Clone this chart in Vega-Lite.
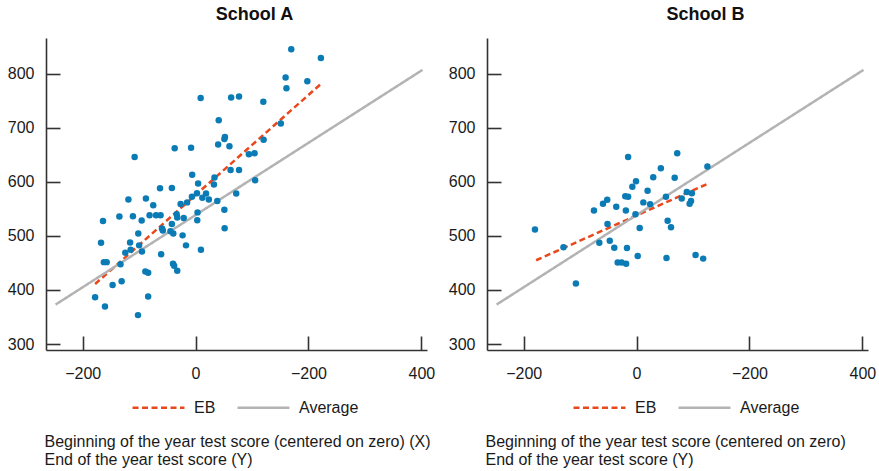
{
  "$schema": "https://vega.github.io/schema/vega-lite/v6.json",
  "padding": {"left": 7, "top": 6, "right": 5, "bottom": 5},
  "background": "white",
  "datasets": {
    "ptsA": [
      {"x": 169.5, "y": 845}, {"x": 222, "y": 829}, {"x": 159.5, "y": 793}, {"x": 161, "y": 773}, {"x": 198, "y": 786},
      {"x": 9, "y": 755}, {"x": 63, "y": 756}, {"x": 77, "y": 758}, {"x": 120, "y": 748}, {"x": 41, "y": 714},
      {"x": 151, "y": 708}, {"x": 52, "y": 683}, {"x": 51, "y": 679}, {"x": 40, "y": 669}, {"x": 60, "y": 666},
      {"x": 120.5, "y": 678}, {"x": -37, "y": 662}, {"x": -8, "y": 663}, {"x": -108, "y": 646}, {"x": 94.5, "y": 651},
      {"x": 104.5, "y": 653}, {"x": 62, "y": 622}, {"x": 77, "y": 622}, {"x": 105.5, "y": 603}, {"x": -6, "y": 613},
      {"x": 4.5, "y": 597}, {"x": 33.5, "y": 608}, {"x": 32.5, "y": 595}, {"x": -63, "y": 588}, {"x": -42, "y": 588.5},
      {"x": -119, "y": 567.5}, {"x": -88, "y": 569}, {"x": -75, "y": 556.5}, {"x": -6.5, "y": 572.5}, {"x": 2.5, "y": 579},
      {"x": 12, "y": 570.5}, {"x": 18.5, "y": 578.5}, {"x": 23.5, "y": 567.5}, {"x": 38.5, "y": 564.5}, {"x": 72, "y": 578.5},
      {"x": -26.5, "y": 559}, {"x": -15, "y": 562}, {"x": -135, "y": 536}, {"x": -111, "y": 536.5}, {"x": -81.5, "y": 538},
      {"x": -70, "y": 538}, {"x": -62, "y": 538}, {"x": -164, "y": 527.5}, {"x": -95.5, "y": 528.5}, {"x": -33.5, "y": 540},
      {"x": -32.5, "y": 534}, {"x": -21, "y": 533}, {"x": 3.5, "y": 543.5}, {"x": 3, "y": 529}, {"x": 51, "y": 548.5},
      {"x": -42, "y": 522}, {"x": -59.5, "y": 513.5}, {"x": -58, "y": 510}, {"x": -44.5, "y": 508.5}, {"x": -39.5, "y": 504.5},
      {"x": -23, "y": 501}, {"x": -101.5, "y": 504.5}, {"x": 51.5, "y": 514}, {"x": -167.5, "y": 487.5}, {"x": -116, "y": 488},
      {"x": -100, "y": 482.5}, {"x": -17, "y": 482.5}, {"x": -115, "y": 474.5}, {"x": -124.5, "y": 469}, {"x": -95, "y": 471},
      {"x": 9.5, "y": 474.5}, {"x": -61, "y": 466}, {"x": -162.5, "y": 451.5}, {"x": -157.5, "y": 451.5}, {"x": -133, "y": 447.5},
      {"x": -40, "y": 448.5}, {"x": -38, "y": 445}, {"x": -89, "y": 434}, {"x": -84, "y": 432}, {"x": -32.5, "y": 435.5},
      {"x": -147, "y": 409}, {"x": -131, "y": 416}, {"x": -178, "y": 386.5}, {"x": -84, "y": 388}, {"x": -160.5, "y": 369.5},
      {"x": -102, "y": 353.5}
    ],
    "ptsB": [
      {"x": -180, "y": 512}, {"x": -129.5, "y": 479}, {"x": -107.5, "y": 412}, {"x": -75.5, "y": 547}, {"x": -59.5, "y": 559.5},
      {"x": -52, "y": 567}, {"x": -51.5, "y": 522}, {"x": -66, "y": 487.5}, {"x": -47.5, "y": 491}, {"x": -39.5, "y": 478},
      {"x": -36, "y": 554}, {"x": -33.5, "y": 451}, {"x": -26.5, "y": 451}, {"x": -18.5, "y": 448.5}, {"x": -17, "y": 477.5},
      {"x": -19, "y": 547}, {"x": -20, "y": 573.5}, {"x": -15, "y": 572.5}, {"x": -15, "y": 646}, {"x": -7.5, "y": 591},
      {"x": -1, "y": 601}, {"x": -2, "y": 540}, {"x": 5.5, "y": 514.5}, {"x": 2, "y": 463}, {"x": 12, "y": 562},
      {"x": 19.5, "y": 583.5}, {"x": 24, "y": 558.5}, {"x": 29.5, "y": 608.5}, {"x": 43, "y": 625}, {"x": 52, "y": 572.5},
      {"x": 55, "y": 528}, {"x": 61, "y": 516}, {"x": 53, "y": 459}, {"x": 67.5, "y": 607.5}, {"x": 72, "y": 653},
      {"x": 80, "y": 569}, {"x": 89, "y": 581}, {"x": 98, "y": 579}, {"x": 96.5, "y": 564.5}, {"x": 94, "y": 559.5},
      {"x": 104.5, "y": 464.5}, {"x": 118, "y": 458}, {"x": 125.5, "y": 628.5}
    ],
    "linesA": [
      {"series": "EB", "x": -178, "y": 411}, {"series": "EB", "x": 222, "y": 781},
      {"series": "Average", "x": -248, "y": 373}, {"series": "Average", "x": 402, "y": 807}
    ],
    "linesB": [
      {"series": "EB", "x": -178, "y": 455}, {"series": "EB", "x": 125, "y": 596},
      {"series": "Average", "x": -248, "y": 373}, {"series": "Average", "x": 402, "y": 807}
    ]
  },
  "config": {
    "font": "Liberation Sans",
    "view": {"stroke": null},
    "axis": {
      "grid": false,
      "labelFont": "Liberation Sans", "labelFontSize": 16, "labelColor": "#1a1a1a",
      "domainColor": "#333333", "tickColor": "#333333", "domainWidth": 1.6, "tickWidth": 1.6, "tickSize": -14,
      "titleFont": "Liberation Sans", "titleFontSize": 16, "titleFontWeight": "normal", "titleColor": "#1a1a1a"
    },
    "legend": {
      "labelFont": "Liberation Sans", "labelFontSize": 16, "labelColor": "#1a1a1a"
    },
    "title": {"font": "Liberation Sans", "fontSize": 18, "fontWeight": "bold", "color": "#111111", "anchor": "middle", "offset": 14}
  },
  "bounds": "flush",
  "spacing": 60,
  "resolve": {"scale": {"color": "independent", "strokeDash": "independent"}, "legend": {"color": "independent", "strokeDash": "independent"}},
  "hconcat": [
    {
      "width": 381, "height": 312,
      "title": {"text": "School A", "dx": 18},
      "layer": [
        {
          "data": {"name": "linesA"},
          "mark": {"type": "line", "strokeWidth": 2.5},
          "encoding": {
            "x": {"field": "x", "type": "quantitative", "scale": {"domain": [-265, 410], "nice": false, "zero": false},
              "axis": {"values": [-200, 0, 200, 400], "labelExpr": "datum.value == 200 ? '−200' : datum.label", "labelPadding": 29,
                "title": ["Beginning of the year test score (centered on zero) (X)", "End of the year test score (Y)"],
                "titleAnchor": "start", "titleAlign": "left", "titleBaseline": "top", "titleX": -2, "titleY": 83, "titleLineHeight": 18}},
            "y": {"field": "y", "type": "quantitative", "scale": {"domain": [289, 866], "nice": false, "zero": false},
              "axis": {"values": [300, 400, 500, 600, 700, 800], "title": null, "labelPadding": 26}},
            "color": {"field": "series", "type": "nominal", "scale": {"domain": ["EB", "Average"], "range": ["#e8481c", "#b3b3b3"]},
              "legend": {"orient": "none", "legendX": 85, "legendY": 342, "direction": "horizontal", "title": null, "symbolType": "stroke", "symbolSize": 2700, "symbolStrokeWidth": 2.5, "labelOffset": 8, "columnPadding": 16}},
            "strokeDash": {"field": "series", "type": "nominal", "scale": {"domain": ["EB", "Average"], "range": [[6, 3.5], [1, 0]]},
              "legend": {"orient": "none", "legendX": 85, "legendY": 342, "direction": "horizontal", "title": null, "symbolType": "stroke", "symbolSize": 2700, "symbolStrokeWidth": 2.5, "labelOffset": 8, "columnPadding": 16}}
          }
        },
        {
          "data": {"name": "ptsA"},
          "mark": {"type": "circle", "size": 42, "color": "#0b7bb5", "opacity": 1},
          "encoding": {
            "x": {"field": "x", "type": "quantitative"},
            "y": {"field": "y", "type": "quantitative"}
          }
        }
      ]
    },
    {
      "width": 381, "height": 312,
      "title": {"text": "School B", "dx": 28},
      "layer": [
        {
          "data": {"name": "linesB"},
          "mark": {"type": "line", "strokeWidth": 2.5},
          "encoding": {
            "x": {"field": "x", "type": "quantitative", "scale": {"domain": [-265, 410], "nice": false, "zero": false},
              "axis": {"values": [-200, 0, 200, 400], "labelExpr": "datum.value == 200 ? '−200' : datum.label", "labelPadding": 29,
                "title": ["Beginning of the year test score (centered on zero)", "End of the year test score (Y)"],
                "titleAnchor": "start", "titleAlign": "left", "titleBaseline": "top", "titleX": -2, "titleY": 83, "titleLineHeight": 18}},
            "y": {"field": "y", "type": "quantitative", "scale": {"domain": [289, 866], "nice": false, "zero": false},
              "axis": {"values": [300, 400, 500, 600, 700, 800], "title": null, "labelPadding": 26}},
            "color": {"field": "series", "type": "nominal", "scale": {"domain": ["EB", "Average"], "range": ["#e8481c", "#b3b3b3"]},
              "legend": {"orient": "none", "legendX": 85, "legendY": 342, "direction": "horizontal", "title": null, "symbolType": "stroke", "symbolSize": 2700, "symbolStrokeWidth": 2.5, "labelOffset": 8, "columnPadding": 16}},
            "strokeDash": {"field": "series", "type": "nominal", "scale": {"domain": ["EB", "Average"], "range": [[6, 3.5], [1, 0]]},
              "legend": {"orient": "none", "legendX": 85, "legendY": 342, "direction": "horizontal", "title": null, "symbolType": "stroke", "symbolSize": 2700, "symbolStrokeWidth": 2.5, "labelOffset": 8, "columnPadding": 16}}
          }
        },
        {
          "data": {"name": "ptsB"},
          "mark": {"type": "circle", "size": 42, "color": "#0b7bb5", "opacity": 1},
          "encoding": {
            "x": {"field": "x", "type": "quantitative"},
            "y": {"field": "y", "type": "quantitative"}
          }
        }
      ]
    }
  ]
}
